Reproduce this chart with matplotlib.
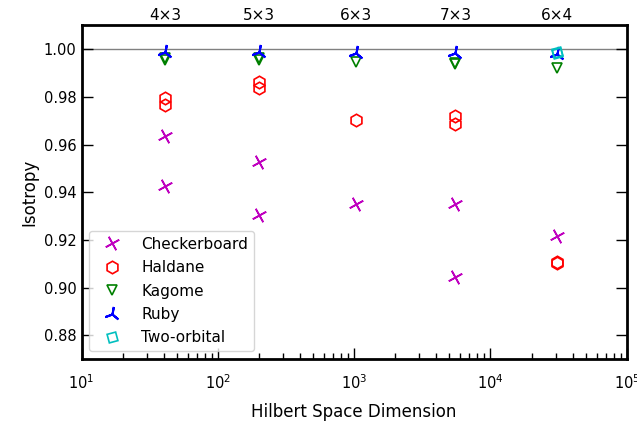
import numpy as np
import matplotlib
matplotlib.use('Agg')
import matplotlib.pyplot as plt

# cluster sizes and Hilbert space dimensions
clusters = ['4×3', '5×3', '6×3', '7×3', '6×4']
dims = [41, 200, 1031, 5537, 30645]

# isotropy values (two values per cluster where two points are shown)
cb_x = [41, 41, 200, 200, 1031, 5537, 5537, 30645]
cb_y = [0.9635, 0.9425, 0.9525, 0.9303, 0.9350, 0.9350, 0.9045, 0.9215]

hal_x = [41, 41, 200, 200, 1031, 5537, 5537, 30645, 30645]
hal_y = [0.9797, 0.9767, 0.9862, 0.9837, 0.9705, 0.9722, 0.9685, 0.9106, 0.9103]

kag_x = [41, 41, 200, 200, 1031, 5537, 5537, 30645]
kag_y = [0.9962, 0.9957, 0.9962, 0.9957, 0.9947, 0.9942, 0.9937, 0.9920]

ruby_x = [41, 200, 1031, 5537, 30645]
ruby_y = [0.9988, 0.9988, 0.9985, 0.9985, 0.9980]

two_x = [30645, 30645]
two_y = [0.9990, 0.9986]

fig = plt.figure(figsize=(6.37, 4.24), dpi=100)
ax = fig.add_axes([0.128, 0.153, 0.856, 0.787])

ax.axhline(1.0, color='gray', lw=1, zorder=1)

ax.plot(cb_x, cb_y, ls='none', marker=(4, 2, 29), ms=11, mew=1.2, color='m', label='Checkerboard')
ax.plot(hal_x, hal_y, ls='none', marker='h', ms=9, mew=1.2, mfc='none', color='r', label='Haldane')
ax.plot(kag_x, kag_y, ls='none', marker='v', ms=7, mew=1.2, mfc='none', color='g', label='Kagome')
ax.plot(ruby_x, ruby_y, ls='none', marker=(3, 2, -10), ms=11, mew=1.5, color='b', label='Ruby')
ax.plot(two_x, two_y, ls='none', marker=(4, 0, 60), ms=9, mew=1.2, mfc='none', color='c', label='Two-orbital')

ax.set_xscale('log')
ax.set_xlim(10, 1e5)
ax.set_ylim(0.87, 1.01)
ax.set_yticks(np.arange(0.88, 1.001, 0.02))
ax.set_xlabel('Hilbert Space Dimension', fontsize=12, labelpad=8)
ax.set_ylabel('Isotropy', fontsize=12)

for s in ax.spines.values():
    s.set_linewidth(2)
ax.tick_params(which='both', direction='in', top=True, right=True, labelsize=10.5)
ax.tick_params(which='major', length=8, width=1)
ax.tick_params(which='minor', length=4, width=1)
ax.tick_params(axis='x', which='major', pad=10)

ax2 = ax.twiny()
ax2.set_xscale('log')
ax2.set_xlim(ax.get_xlim())
ax2.set_xticks(dims)
ax2.set_xticklabels(clusters, fontsize=11)
ax2.xaxis.set_minor_locator(matplotlib.ticker.NullLocator())
ax2.tick_params(length=0, pad=2)
for s in ax2.spines.values():
    s.set_visible(False)

ax.legend(loc='lower left', fontsize=11, handletextpad=0.8, borderpad=0.4,
          labelspacing=0.55, handlelength=2.2, numpoints=1, borderaxespad=0.5)

fig.savefig('out.png', dpi=100)
